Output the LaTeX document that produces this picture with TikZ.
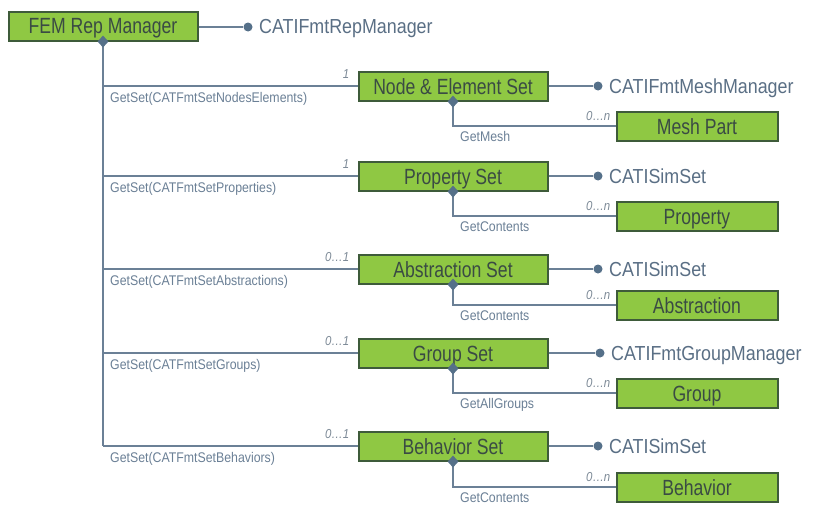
\documentclass[tikz,border=0pt]{standalone}
\usepackage{fontspec}
\setmainfont{Liberation Sans}[FakeStretch=0.88]
\newfontfamily\boxfont{Liberation Sans}[FakeStretch=0.8]
\usetikzlibrary{shapes.geometric, positioning, calc}
\definecolor{boxfill}{HTML}{8FC843}
\definecolor{boxline}{HTML}{3E5B3A}
\definecolor{boxtext}{HTML}{3A4B44}
\definecolor{linkgray}{HTML}{6B8096}
\definecolor{dotblue}{HTML}{557089}
\definecolor{ifacetext}{HTML}{5A6F85}
\definecolor{multgray}{HTML}{7D8A97}
\tikzset{
    setbox/.style={ % Boxes of the manager and of the sets
    draw=boxline, line width=2pt, fill=boxfill,
    minimum width=189pt, minimum height=29pt,
    text=boxtext, font=\boxfont\fontsize{22}{24}\selectfont,
    text height=16pt, text depth=0pt, inner sep=0pt},
    partbox/.style={ % Boxes of the set contents
    setbox, minimum width=161pt},
    link/.style={draw=linkgray, line width=1.1pt},
    knot/.style={ % Aggregation diamond
    diamond, fill=dotblue, inner sep=0pt, minimum width=11pt, minimum height=12pt},
    ifdot/.style={circle, fill=dotblue, inner sep=0pt, minimum size=9pt},
    iface/.style={anchor=base west, text=ifacetext, inner sep=0pt,
    font=\fontsize{20.3}{22}\selectfont},
    call/.style={anchor=base west, text=linkgray, inner sep=0pt,
    font=\fontsize{14}{16}\selectfont},
    mult/.style={anchor=base east, text=multgray, inner sep=0pt,
    font=\fontsize{13}{15}\selectfont\itshape}}

\begin{document}
\begin{tikzpicture}[x=1pt, y=-1pt]
    \useasboundingbox[fill=white] (0,0) rectangle (828,514);

    % Manager
    \node[setbox] (fem) at (103,26) {FEM Rep Manager};
    \node[ifdot] (femI) at (248,27) {};
    \node[iface] at ($(femI)+(11,7)$) {CATIFmtRepManager};
    \draw[link] (fem.east |- femI) -- (femI);

    % Sets
    \node[setbox] (nes) at (453,86) {Node \& Element Set};
    \node[setbox] (prop) at (453,176) {Property Set};
    \node[setbox] (abst) at (453,269) {Abstraction Set};
    \node[setbox] (grp) at (453,353) {Group Set};
    \node[setbox] (beh) at (453,446) {Behavior Set};

    % Contents
    \node[partbox] (mesh) at (697,126) {Mesh Part};
    \node[partbox] (propC) at (697,216) {Property};
    \node[partbox] (abstC) at (697,305) {Abstraction};
    \node[partbox] (grpC) at (697,393) {Group};
    \node[partbox] (behC) at (697,487) {Behavior};

    % Interfaces of the sets
    \node[ifdot] (nesI) at (598,86) {};
    \node[iface] at ($(nesI)+(11,7)$) {CATIFmtMeshManager};
    \node[ifdot] (propI) at (598,176) {};
    \node[iface] at ($(propI)+(11,7)$) {CATISimSet};
    \node[ifdot] (abstI) at (598,269) {};
    \node[iface] at ($(abstI)+(11,7)$) {CATISimSet};
    \node[ifdot] (grpI) at (600,353) {};
    \node[iface] at ($(grpI)+(11,7)$) {CATIFmtGroupManager};
    \node[ifdot] (behI) at (598,446) {};
    \node[iface] at ($(behI)+(11,7)$) {CATISimSet};
    \foreach \s in {nes, prop, abst, grp, beh}
        \draw[link] (\s.east) -- (\s I);

    % Links from the manager
    \draw[link] (fem.south) -- (fem.south |- beh.west);
    \foreach \s/\m/\t in {nes/1/NodesElements, prop/1/Properties,
        abst/0…1/Abstractions, grp/0…1/Groups, beh/0…1/Behaviors} {
        \draw[link] (fem.south |- \s.west) -- (\s.west);
        \node[call] at ($(fem.south |- \s.west)+(7,16)$) {GetSet(CATFmtSet\t)};
        \node[mult] at ($(\s.west)+(-8,-8)$) {\m};
    }

    % Links from the sets
    \foreach \s/\c/\t in {nes/mesh/GetMesh, prop/propC/GetContents,
        abst/abstC/GetContents, grp/grpC/GetAllGroups, beh/behC/GetContents} {
        \draw[link] (\s.south) |- (\c.west);
        \node[call] at ($(\s.south |- \c.west)+(7,15)$) {\t};
        \node[mult] at ($(\c.west)+(-5,-6)$) {0…n};
        \node[knot] at (\s.south) {};
    }
    \node[knot] at (fem.south) {};
\end{tikzpicture}
\end{document}
